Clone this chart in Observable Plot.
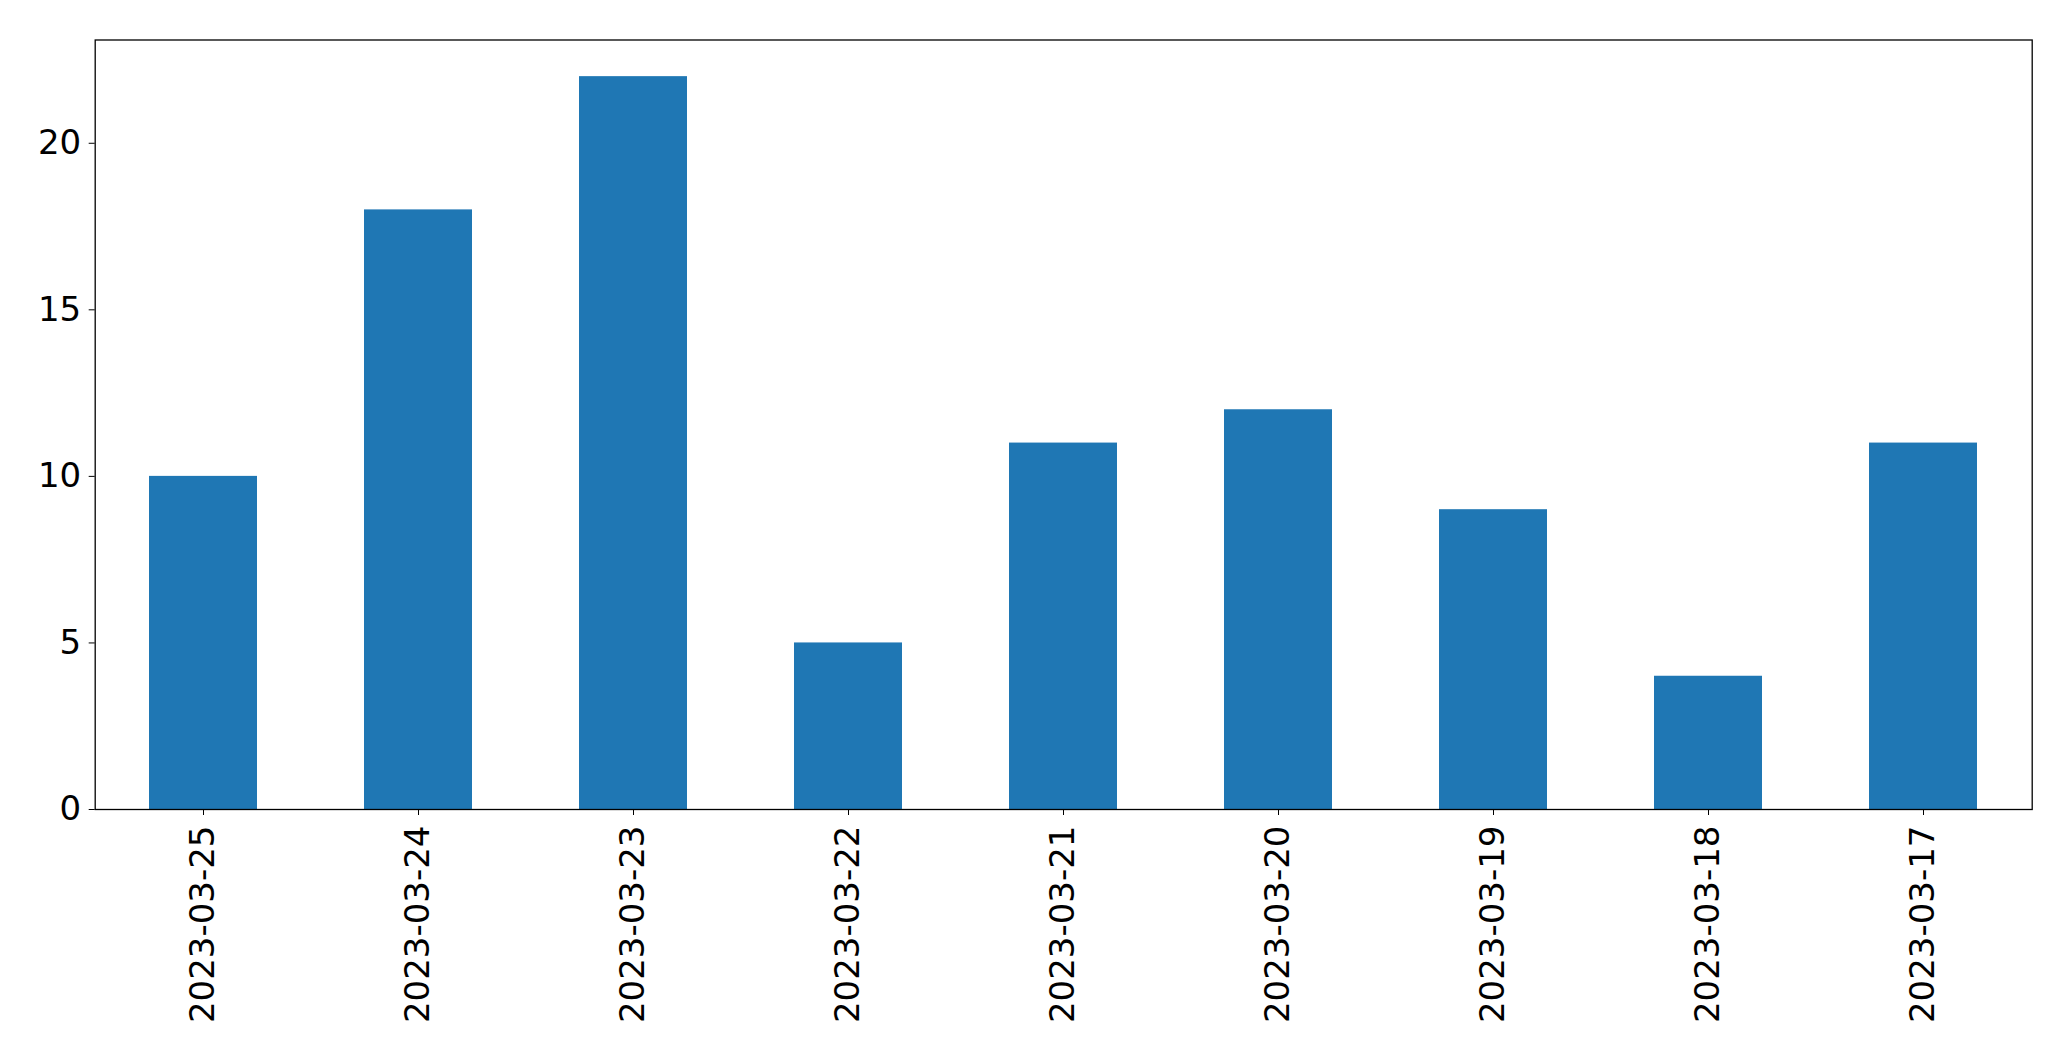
<!DOCTYPE html>
<html>
<head>
<meta charset="utf-8">
<script src="https://cdn.jsdelivr.net/npm/d3@7"></script>
<script src="https://cdn.jsdelivr.net/npm/@observablehq/plot@0.6"></script>
<style>
  html, body { margin: 0; padding: 0; background: #fff; }
  #chart svg { display: block; }
</style>
</head>
<body>
<div id="chart"></div>
<script>
const dates = ["2023-03-25", "2023-03-24", "2023-03-23", "2023-03-22", "2023-03-21", "2023-03-20", "2023-03-19", "2023-03-18", "2023-03-17"];
const counts = [10, 18, 22, 5, 11, 12, 9, 4, 11];
const yTicks = [0, 5, 10, 15, 20];

const data = dates.map((d, i) => ({date: d, count: counts[i]}));

const chart = Plot.plot({
  width: 2071,
  height: 1061,
  marginLeft: 94.7,
  marginRight: 39.3,
  marginTop: 39.5,
  marginBottom: 252,
  style: {fontFamily: "DejaVu Sans", fontSize: "34px", color: "#000", background: "#fff"},
  x: {domain: dates, paddingInner: 0.5, paddingOuter: 0.25, label: null},
  y: {domain: [0, 23.1], label: null},
  marks: [
    Plot.barY(data, {x: "date", y: "count", fill: "#1f77b4"}),
    Plot.axisY({ticks: yTicks, tickSize: 6, tickPadding: 8, label: null, fontSize: 34}),
    Plot.axisX({tickSize: 6, tickPadding: 10, tickRotate: -90, label: null, fontSize: 34}),
    Plot.frame({stroke: "#000", strokeWidth: 1.3})
  ]
});
document.getElementById("chart").appendChild(chart);
</script>
</body>
</html>
